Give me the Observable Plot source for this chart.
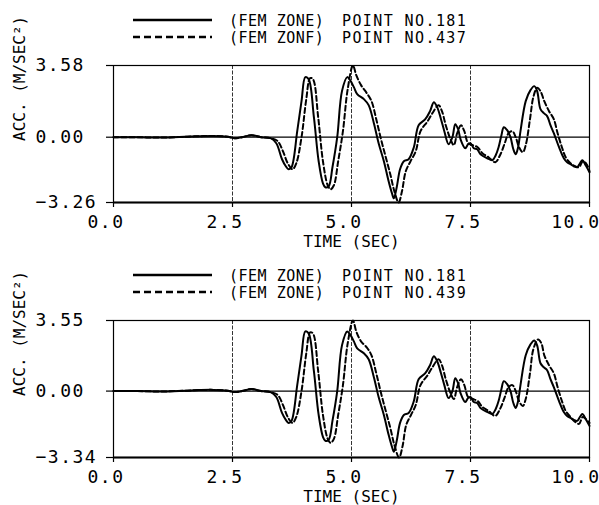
<!DOCTYPE html>
<html>
<head>
<meta charset="utf-8">
<script src="https://cdn.jsdelivr.net/npm/d3@7"></script>
<script src="https://cdn.jsdelivr.net/npm/@observablehq/plot@0.6"></script>
<style>
  body { margin: 0; background: #fff; }
  #wrap { position: relative; width: 599px; height: 505px; overflow: hidden; background: #fff; }
  .panel { position: absolute; left: 0; width: 599px; height: 250px; }
  .panel svg { position: absolute; left: 0; top: 0; overflow: visible; }
  svg text { font-family: "DejaVu Sans Mono", monospace; }
  g[aria-label="x-axis tick label"] text, g[aria-label="y-axis tick label"] text { letter-spacing: 1.5px; }
  .lg text { letter-spacing: 0.5px; }
</style>
</head>
<body>
<div id="wrap"></div>
<script>
// ---- data ----
const X_TICKS = [0, 2.5, 5, 7.5, 10];
const X_GRID = [2.5, 5, 7.5];
const Y_TICKS_TOP = [-3.26, 0, 3.58];
const Y_TICKS_BOT = [-3.34, 0, 3.55];
const X_LABEL = "TIME (SEC)";
const Y_LABEL = "ACC. (M/SEC²)";
const LEG_TOP = ["(FEM ZONE)", "POINT NO.181", "(FEM ZONF)", "POINT NO.437"];
const LEG_BOT = ["(FEM ZONE)", "POINT NO.181", "(FEM ZONE)", "POINT NO.439"];

// point 181 (solid)
const T181 = [0,0.5,1.0,1.5,1.8,2.1,2.4,2.55,2.7,2.9,
  3.1,3.3,3.42,3.54,3.62,3.68,3.74,3.86,3.95,4.03,
  4.1,4.21,4.31,4.4,4.45,4.52,4.6,4.7,4.8,4.91,
  4.97,5.05,5.12,5.26,5.36,5.47,5.57,5.68,5.78,5.85,
  5.89,5.95,6.02,6.1,6.2,6.31,6.41,6.55,6.65,6.73,
  6.8,6.88,6.95,7.04,7.12,7.18,7.24,7.29,7.39,7.45,
  7.5,7.57,7.64,7.71,7.85,7.96,8.03,8.09,8.15,8.2,
  8.27,8.34,8.4,8.45,8.5,8.55,8.66,8.76,8.84,8.9,
  8.97,9.04,9.11,9.18,9.25,9.36,9.46,9.53,9.6,9.67,
  9.74,9.8,9.85,9.92,10.0];
const A181 = [0,0,-0.02,0.02,0.05,0.06,0.02,-0.05,0,0.1,
  0,-0.05,-0.3,-1.1,-1.45,-1.6,-1.5,0.3,1.8,3.0,
  2.9,1.0,-1.2,-2.3,-2.5,-2.45,-1.5,0,2.3,3.0,
  2.85,2.5,2.15,1.9,1.6,0.7,-0.3,-1.2,-2.2,-2.8,
  -3.05,-2.5,-1.6,-1.2,-1.1,-0.5,0.6,0.9,1.3,1.75,
  1.5,0.9,0.3,-0.35,0,0.65,0.4,-0.1,-0.55,-0.35,
  -0.3,-0.55,-0.6,-0.85,-1.05,-1.15,-0.9,-0.5,0.1,0.5,
  0.35,0,-0.6,-0.85,-0.5,0.3,1.8,2.35,2.55,2.3,
  1.4,1.2,1.05,0.6,0.2,-0.5,-1.05,-1.25,-1.35,-1.45,
  -1.5,-1.3,-1.15,-1.4,-1.75];

// point 437 (dashed, top panel)
const T437 = [0,0.5,1.0,1.5,1.8,2.1,2.4,2.55,2.7,2.9,
  3.1,3.3,3.45,3.56,3.66,3.76,3.84,3.95,4.05,4.13,
  4.19,4.3,4.4,4.5,4.56,4.63,4.72,4.82,4.92,5.03,
  5.1,5.2,5.32,5.42,5.52,5.62,5.72,5.82,5.9,5.99,
  6.06,6.14,6.24,6.35,6.45,6.6,6.7,6.83,6.9,6.98,
  7.08,7.15,7.22,7.3,7.37,7.45,7.55,7.65,7.75,7.88,
  8.02,8.12,8.22,8.3,8.38,8.45,8.52,8.6,8.66,8.75,
  8.82,8.9,8.97,9.05,9.15,9.25,9.33,9.42,9.5,9.6,
  9.7,9.78,9.86,9.94,10.0];
const A437 = [0,0,-0.02,0.02,0.05,0.06,0.02,-0.05,0,0.1,
  0,-0.05,-0.2,-0.7,-1.3,-1.6,-1.3,0,1.9,2.95,
  2.9,1.0,-1.2,-2.4,-2.6,-2.4,-1.2,0.3,2.4,3.58,
  3.1,2.6,2.2,1.8,0.9,-0.1,-1.0,-1.9,-2.7,-3.26,
  -2.7,-1.7,-1.2,-0.7,0.3,0.8,1.2,1.6,1.3,0.6,
  -0.1,-0.4,0.2,0.6,0.3,-0.3,-0.4,-0.5,-0.8,-1.0,
  -1.25,-0.9,-0.3,0.2,0.3,0,-0.5,-0.75,-0.4,0.9,
  2.0,2.47,2.3,1.8,1.3,0.9,0.2,-0.5,-1.0,-1.3,
  -1.45,-1.5,-1.2,-1.35,-1.7];

// point 439 (dashed, bottom panel)
const T439 = [0,0.5,1.0,1.5,1.8,2.1,2.4,2.55,2.7,2.9,
  3.1,3.3,3.45,3.56,3.66,3.76,3.84,3.95,4.05,4.13,
  4.19,4.3,4.4,4.5,4.56,4.63,4.72,4.82,4.92,5.03,
  5.1,5.2,5.32,5.42,5.52,5.62,5.72,5.82,5.9,6.0,
  6.07,6.15,6.25,6.35,6.45,6.6,6.7,6.83,6.9,6.98,
  7.08,7.15,7.22,7.3,7.37,7.45,7.55,7.65,7.75,7.88,
  8.02,8.12,8.22,8.3,8.38,8.45,8.52,8.6,8.66,8.75,
  8.82,8.92,8.99,9.05,9.15,9.25,9.33,9.42,9.5,9.6,
  9.7,9.78,9.86,9.94,10.0];
const A439 = [0,0,-0.02,0.02,0.05,0.06,0.02,-0.05,0,0.1,
  0,-0.05,-0.2,-0.7,-1.3,-1.6,-1.3,0,1.9,2.95,
  2.9,1.0,-1.2,-2.4,-2.6,-2.4,-1.2,0.3,2.4,3.55,
  3.0,2.5,2.2,1.8,0.9,-0.1,-1.0,-1.9,-2.7,-3.34,
  -2.8,-1.7,-1.2,-0.7,0.3,0.8,1.2,1.6,1.3,0.6,
  -0.1,-0.4,0.2,0.6,0.3,-0.3,-0.4,-0.5,-0.8,-1.0,
  -1.25,-0.9,-0.3,0.2,0.3,0,-0.5,-0.75,-0.4,0.9,
  2.1,2.6,2.4,1.8,1.3,0.9,0.2,-0.5,-1.0,-1.3,
  -1.55,-1.65,-1.3,-1.45,-1.6];

const rows = (T, A) => T.map((t, i) => ({t, a: A[i]}));

function legend(labels) {
  const svg = d3.create("svg").attr("class", "lg").attr("width", 599).attr("height", 50)
    .style("position", "absolute").style("left", "0px").style("top", "0px");
  const ys = [20, 37];
  ys.forEach((y, r) => {
    svg.append("line").attr("x1", 133).attr("x2", 212).attr("y1", y).attr("y2", y)
      .attr("stroke", "#000").attr("stroke-width", 2.5)
      .attr("stroke-dasharray", r === 1 ? "7,4" : null);
    svg.append("text").attr("x", 229).attr("y", y + 5.5).attr("font-size", 15).text(labels[r * 2]);
    svg.append("text").attr("x", 342).attr("y", y + 5.5).attr("font-size", 15)
      .style("letter-spacing", "1.4px").text(labels[r * 2 + 1]);
  });
  return svg.node();
}

function panel(top, solid, dashed, yTicks, labels) {
  const yDomain = [yTicks[0], yTicks[2]];
  const chart = Plot.plot({
    width: 599, height: 250,
    marginLeft: 113, marginRight: 10, marginTop: 65, marginBottom: 48,
    style: {fontFamily: '"DejaVu Sans Mono", monospace', fontSize: "18px", color: "#000", background: "transparent"},
    x: {domain: [0, 10]},
    y: {domain: yDomain},
    marks: [
      Plot.ruleX(X_GRID, {stroke: "#000", strokeWidth: 0.8, strokeDasharray: "4,1.5"}),
      Plot.ruleY([0], {stroke: "#000", strokeWidth: 1.2}),
      Plot.frame({stroke: "#000", strokeWidth: 1.2}),
      Plot.ruleY([yDomain[0]], {stroke: "#000", strokeWidth: 2}),
      Plot.axisX({ticks: X_TICKS, tickSize: 5, fill: "none", label: null, strokeWidth: 1.2}),
      Plot.axisX({ticks: X_TICKS, tickSize: 0, tickPadding: 13, textAnchor: "end", dx: 11, tickFormat: d3.format(".1f"), label: null, fontSize: 18}),
      Plot.axisY({ticks: yTicks, tickSize: 7, fill: "none", label: null, strokeWidth: 1.2}),
      Plot.axisY({ticks: yTicks, tickSize: 0, tickPadding: 0, textAnchor: "start", dx: -78, tickFormat: d3.format(".2f"), label: null, fontSize: 18}),
      Plot.text([X_LABEL], {frameAnchor: "bottom", dy: 39, lineAnchor: "middle", fontSize: 16, fill: "#000"}),
      Plot.text([Y_LABEL], {frameAnchor: "left", rotate: -90, dx: -94, dy: 7, lineAnchor: "middle", fontSize: 16, fill: "#000"}),
      Plot.line(solid, {x: "t", y: "a", stroke: "#000", strokeWidth: 2, curve: "catmull-rom"}),
      Plot.line(dashed, {x: "t", y: "a", stroke: "#000", strokeWidth: 2, strokeDasharray: "5,3", curve: "catmull-rom"})
    ]
  });
  const div = document.createElement("div");
  div.className = "panel";
  div.style.top = top + "px";
  div.appendChild(chart);
  div.appendChild(legend(labels));
  document.getElementById("wrap").appendChild(div);
}

panel(0, rows(T181, A181), rows(T437, A437), Y_TICKS_TOP, LEG_TOP);
panel(255, rows(T181, A181), rows(T439, A439), Y_TICKS_BOT, LEG_BOT);
</script>
</body>
</html>
